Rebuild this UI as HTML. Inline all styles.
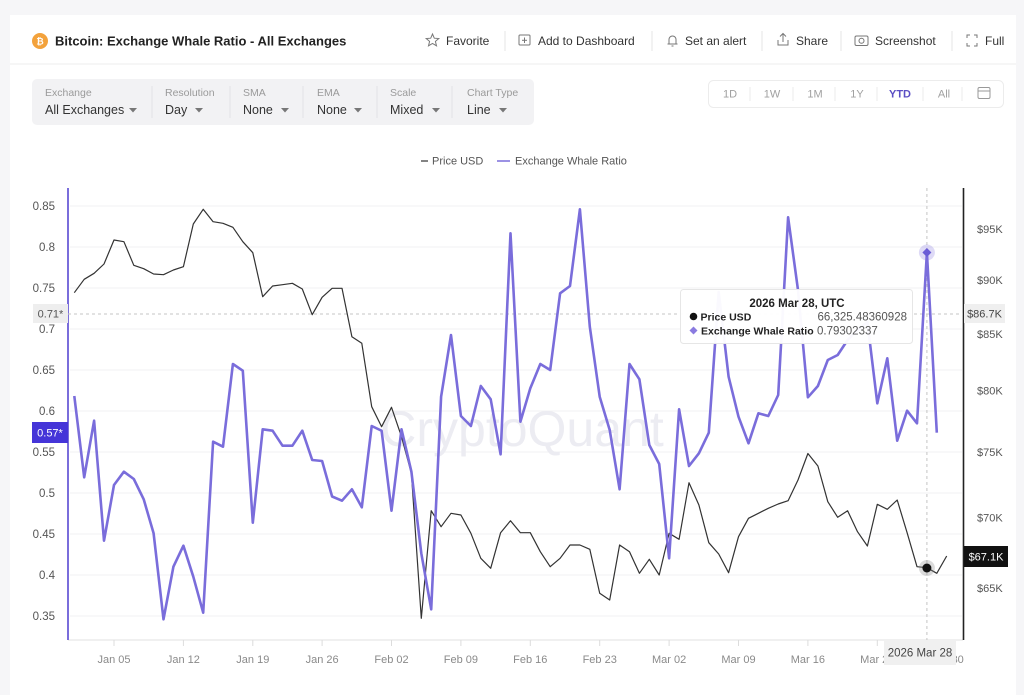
<!DOCTYPE html>
<html><head><meta charset="utf-8">
<style>
html,body{margin:0;padding:0;}
body{width:1024px;height:678px;overflow:hidden;background:#f6f6f8;font-family:"Liberation Sans",Arial,sans-serif;position:relative;}
.card{position:absolute;left:10px;top:15px;width:1006px;height:680px;background:#fff;}
.abs{position:absolute;white-space:nowrap;}
</style></head>
<body>
<div class="card"></div>
<svg width="1024" height="678" viewBox="0 0 1024 678" style="position:absolute;left:0;top:0" font-family="Liberation Sans, Arial, sans-serif">
<!-- header -->
<line x1="10" y1="64" x2="1016" y2="64" stroke="#ececec" stroke-width="1"/>
<circle cx="40" cy="41" r="8" fill="#f3a23c"/>
<text x="40" y="44.5" font-size="9" fill="#fff" text-anchor="middle" font-weight="bold">₿</text>
<text x="55" y="45.5" font-size="13" font-weight="bold" fill="#222">Bitcoin: Exchange Whale Ratio - All Exchanges</text>
<g fill="none" stroke="#777" stroke-width="1">
<polygon points="432.5,34 434.3,38.2 438.8,38.5 435.4,41.4 436.5,45.8 432.5,43.4 428.5,45.8 429.6,41.4 426.2,38.5 430.7,38.2"/>
<rect x="519" y="35" width="11" height="10" rx="1"/><line x1="524.5" y1="37.5" x2="524.5" y2="43"/><line x1="522" y1="40.3" x2="527" y2="40.3"/>
<path d="M667.5,44 h10 M669,44 v-4.5 a3.5,3.5 0 0 1 7,0 v4.5 M671.5,46 h2"/>
<path d="M778,40 v5 h10 v-5 M783,42 v-8 M780,36.5 l3,-3 l3,3"/>
<rect x="855" y="36" width="13" height="9.5" rx="1.5"/><circle cx="861.5" cy="40.8" r="2.5"/>
<path d="M967,38 v-3 h3 M974,35 h3 v3 M977,43 v3 h-3 M970,46 h-3 v-3"/>
</g>
<g stroke="#e4e4e4" stroke-width="1">
<line x1="505" y1="31" x2="505" y2="51"/><line x1="652" y1="31" x2="652" y2="51"/><line x1="762" y1="31" x2="762" y2="51"/><line x1="841" y1="31" x2="841" y2="51"/><line x1="952" y1="31" x2="952" y2="51"/>
</g>
<g font-size="12" fill="#333">
<text x="446" y="45">Favorite</text>
<text x="538" y="45">Add to Dashboard</text>
<text x="685" y="45">Set an alert</text>
<text x="796" y="45">Share</text>
<text x="875" y="45">Screenshot</text>
<text x="985" y="45">Full</text>
</g>
<!-- controls -->
<rect x="32" y="79" width="502" height="46" rx="5" fill="#f2f2f4"/>
<g stroke="#e3e3e6" stroke-width="1">
<line x1="152" y1="86" x2="152" y2="118"/><line x1="230" y1="86" x2="230" y2="118"/><line x1="303" y1="86" x2="303" y2="118"/><line x1="377" y1="86" x2="377" y2="118"/><line x1="452" y1="86" x2="452" y2="118"/>
</g>
<g font-size="10.5" fill="#9a9a9a">
<text x="45" y="96">Exchange</text><text x="165" y="96">Resolution</text><text x="243" y="96">SMA</text><text x="317" y="96">EMA</text><text x="390" y="96">Scale</text><text x="467" y="96">Chart Type</text>
</g>
<g font-size="12.5" fill="#333">
<text x="45" y="114">All Exchanges</text><text x="165" y="114">Day</text><text x="243" y="114">None</text><text x="317" y="114">None</text><text x="390" y="114">Mixed</text><text x="467" y="114">Line</text>
</g>
<g fill="#777">
<polygon points="129,108 137,108 133,112.5"/><polygon points="195,108 203,108 199,112.5"/><polygon points="281,108 289,108 285,112.5"/><polygon points="354,108 362,108 358,112.5"/><polygon points="432,108 440,108 436,112.5"/><polygon points="499,108 507,108 503,112.5"/>
</g>
<rect x="708.5" y="80.5" width="295" height="27" rx="5" fill="#fff" stroke="#ececec"/>
<g stroke="#ebebeb"><line x1="750" y1="87" x2="750" y2="101"/><line x1="793" y1="87" x2="793" y2="101"/><line x1="835" y1="87" x2="835" y2="101"/><line x1="877" y1="87" x2="877" y2="101"/><line x1="923" y1="87" x2="923" y2="101"/><line x1="962" y1="87" x2="962" y2="101"/></g>
<g font-size="11" fill="#a0a0a0" text-anchor="middle">
<text x="730" y="97.5">1D</text><text x="772" y="97.5">1W</text><text x="815" y="97.5">1M</text><text x="857" y="97.5">1Y</text><text x="900" y="97.5" fill="#5b4fc4" font-weight="bold">YTD</text><text x="944" y="97.5">All</text>
</g>
<g fill="none" stroke="#999" stroke-width="1"><rect x="978" y="87.5" width="12" height="11" rx="1.5"/><line x1="978" y1="91" x2="990" y2="91"/></g>

<!-- legend -->
<line x1="421" y1="161" x2="428" y2="161" stroke="#333" stroke-width="1.2"/>
<text x="432" y="164.5" font-size="11" fill="#555">Price USD</text>
<line x1="497" y1="161" x2="510" y2="161" stroke="#7a6ddb" stroke-width="1.5"/>
<text x="515" y="164.5" font-size="11" fill="#555">Exchange Whale Ratio</text>

<!-- grid -->
<g stroke="#f1f1f3" stroke-width="1">
<line x1="70" y1="206" x2="962" y2="206"/><line x1="70" y1="247" x2="962" y2="247"/><line x1="70" y1="288" x2="962" y2="288"/><line x1="70" y1="329" x2="962" y2="329"/><line x1="70" y1="370" x2="962" y2="370"/><line x1="70" y1="411" x2="962" y2="411"/><line x1="70" y1="452" x2="962" y2="452"/><line x1="70" y1="493" x2="962" y2="493"/><line x1="70" y1="534" x2="962" y2="534"/><line x1="70" y1="575" x2="962" y2="575"/><line x1="70" y1="616" x2="962" y2="616"/>
</g>
<!-- watermark -->
<text x="522" y="446" font-size="50" fill="#ececf2" text-anchor="middle">CryptoQuant</text>

<!-- x axis -->
<line x1="68" y1="640" x2="963" y2="640" stroke="#e2e2e2" stroke-width="1"/>
<g stroke="#dcdcdc" stroke-width="1">
<line x1="114" y1="640" x2="114" y2="646"/><line x1="183.4" y1="640" x2="183.4" y2="646"/><line x1="252.8" y1="640" x2="252.8" y2="646"/><line x1="322.1" y1="640" x2="322.1" y2="646"/><line x1="391.5" y1="640" x2="391.5" y2="646"/><line x1="460.9" y1="640" x2="460.9" y2="646"/><line x1="530.3" y1="640" x2="530.3" y2="646"/><line x1="599.7" y1="640" x2="599.7" y2="646"/><line x1="669.1" y1="640" x2="669.1" y2="646"/><line x1="738.5" y1="640" x2="738.5" y2="646"/><line x1="807.9" y1="640" x2="807.9" y2="646"/><line x1="877.3" y1="640" x2="877.3" y2="646"/>
</g>
<g font-size="11" fill="#8a8a8a" text-anchor="middle">
<text x="114" y="663">Jan 05</text><text x="183.4" y="663">Jan 12</text><text x="252.8" y="663">Jan 19</text><text x="322.1" y="663">Jan 26</text><text x="391.5" y="663">Feb 02</text><text x="460.9" y="663">Feb 09</text><text x="530.3" y="663">Feb 16</text><text x="599.7" y="663">Feb 23</text><text x="669.1" y="663">Mar 02</text><text x="738.5" y="663">Mar 09</text><text x="807.9" y="663">Mar 16</text><text x="877.3" y="663">Mar 23</text><text x="946.7" y="663">Mar 30</text>
</g>

<!-- left axis -->
<line x1="68" y1="188" x2="68" y2="640" stroke="#7a6ddb" stroke-width="2"/>
<g font-size="11.5" fill="#555" text-anchor="end">
<text x="55" y="210">0.85</text><text x="55" y="251">0.8</text><text x="55" y="292">0.75</text><text x="55" y="333">0.7</text><text x="55" y="374">0.65</text><text x="55" y="415">0.6</text><text x="55" y="456">0.55</text><text x="55" y="497">0.5</text><text x="55" y="538">0.45</text><text x="55" y="579">0.4</text><text x="55" y="620">0.35</text>
</g>
<!-- right axis -->
<line x1="963.5" y1="188" x2="963.5" y2="640" stroke="#222" stroke-width="1.6"/>
<g font-size="11" fill="#555">
<text x="977" y="233">$95K</text><text x="977" y="284">$90K</text><text x="977" y="338">$85K</text><text x="977" y="394.5">$80K</text><text x="977" y="456">$75K</text><text x="977" y="521.5">$70K</text><text x="977" y="592">$65K</text>
</g>

<!-- crosshair -->
<line x1="68" y1="314" x2="963" y2="314" stroke="#c4c4c4" stroke-width="1" stroke-dasharray="3,3"/>
<line x1="926.9" y1="188" x2="926.9" y2="640" stroke="#c4c4c4" stroke-width="1" stroke-dasharray="3,3"/>

<!-- series -->
<polyline fill="none" stroke="#333" stroke-width="1.2" stroke-linejoin="round" points="74.3,292.7 84.2,279.3 94.1,273.3 104,264 114,240 123.9,241.7 133.8,265.3 143.7,268.7 153.6,274 163.5,274.7 173.4,270 183.4,266.7 193.3,224 203.2,209.3 213.1,221.7 223,223.3 232.9,227.3 242.8,241.7 252.8,252.7 262.7,296.7 272.6,286 282.5,284.7 292.4,283.3 302.3,289 312.2,314.7 322.1,297.3 332.1,288.3 342,288.3 351.9,336.7 361.8,343.3 371.7,406.7 381.6,426.7 391.5,407.3 401.5,436.7 411.4,473.3 421.3,618.3 431.2,510.7 441.1,526.7 451,513.3 460.9,515 470.9,533.3 480.8,558.3 490.7,568.3 500.6,532.7 510.5,520.7 520.4,532.7 530.3,532.7 540.3,551.7 550.2,566.7 560.1,558.3 570,545 579.9,545 589.8,549.3 599.7,593.3 609.7,600 619.6,545 629.5,551.7 639.4,573.3 649.3,559.3 659.2,575 669.1,533.3 679.1,539.3 689,482.7 698.9,505 708.8,542.7 718.7,554 728.6,572.7 738.5,536.7 748.5,518.3 758.4,513.3 768.3,508.3 778.2,504 788.1,500.7 798,480 807.9,453.5 817.9,466 827.8,501.7 837.7,517.3 847.6,510.7 857.5,531.7 867.4,546 877.3,504.3 887.3,509.3 897.2,500 907.1,532.7 917,566.7 926.9,567.7 936.8,573.3 946.7,556"/>
<polyline fill="none" stroke="#7a6ddb" stroke-width="2.6" stroke-linejoin="round" points="74.3,396 84.2,477.3 94.1,420.7 104,540.7 114,485 123.9,471.7 133.8,479 143.7,499.3 153.6,533.3 163.5,619.3 173.4,566.7 183.4,545.7 193.3,576.7 203.2,612.7 213.1,441.7 223,446.7 232.9,364 242.8,370.7 252.8,522.7 262.7,429.3 272.6,430.7 282.5,445.7 292.4,445.7 302.3,430.7 312.2,460 322.1,461 332.1,496.5 342,500.7 351.9,489.3 361.8,507.3 371.7,426 381.6,430.7 391.5,510.7 401.5,429.3 411.4,471.7 421.3,553.3 431.2,609.3 441.1,396.7 451,335 460.9,416 470.9,426 480.8,386 490.7,399.3 500.6,454.3 510.5,233.3 520.4,421.7 530.3,388.3 540.3,364 550.2,370 560.1,293.3 570,286 579.9,209.3 589.8,326.7 599.7,396.7 609.7,430 619.6,489.3 629.5,364 639.4,379.3 649.3,445 659.2,464 669.1,558.3 679.1,409.3 689,466 698.9,453.3 708.8,432.7 718.7,292 728.6,376.7 738.5,416.7 748.5,443.3 758.4,413.3 768.3,416 778.2,395 788.1,217.3 798,290 807.9,397.3 817.9,386 827.8,360 837.7,355 847.6,340 857.5,330 867.4,322 877.3,403.3 887.3,358.3 897.2,440.7 907.1,410.7 917,423.3 926.9,252.5 936.8,432.7"/>

<!-- markers -->
<circle cx="926.9" cy="252.5" r="8" fill="#7a6ddb" fill-opacity="0.25"/>
<polygon points="926.9,248 931.4,252.5 926.9,257 922.4,252.5" fill="#6a5cd6"/>
<circle cx="926.9" cy="568" r="8" fill="#888" fill-opacity="0.3"/>
<circle cx="926.9" cy="568" r="4.5" fill="#111"/>

<!-- axis value tags -->
<rect x="33" y="304" width="35" height="19" fill="#eeeeee"/>
<text x="50.5" y="317.5" font-size="11" fill="#555" text-anchor="middle">0.71*</text>
<rect x="32" y="422" width="36" height="21" fill="#4535d8"/>
<text x="50" y="436.5" font-size="11" fill="#fff" text-anchor="middle">0.57*</text>
<rect x="964" y="304" width="41" height="19" fill="#efefef"/>
<text x="984.5" y="317.5" font-size="11" fill="#444" text-anchor="middle">$86.7K</text>
<rect x="964" y="546" width="44" height="21" fill="#111"/>
<text x="986" y="560.5" font-size="11" fill="#fff" text-anchor="middle">$67.1K</text>
<rect x="884" y="640" width="72" height="25" fill="#f0f0f0"/>
<text x="920" y="656.5" font-size="11.5" fill="#444" text-anchor="middle">2026 Mar 28</text>

<!-- tooltip -->
<rect x="680.5" y="289.5" width="232" height="54" rx="3" fill="#fff" fill-opacity="0.96" stroke="#e6e6e6"/>
<text x="797" y="307" font-size="11.5" font-weight="bold" fill="#222" text-anchor="middle">2026 Mar 28, UTC</text>
<circle cx="693.5" cy="316.5" r="3.8" fill="#111"/>
<text x="700.5" y="320.5" font-size="10.5" font-weight="bold" fill="#222">Price USD</text>
<text x="907" y="320.5" font-size="11.5" fill="#555" text-anchor="end">66,325.48360928</text>
<polygon points="693.5,326.5 697.5,330.5 693.5,334.5 689.5,330.5" fill="#8a7be0"/>
<text x="701" y="334.5" font-size="10.5" font-weight="bold" fill="#222">Exchange Whale Ratio</text>
<text x="817" y="334.5" font-size="11.5" fill="#555">0.79302337</text>
</svg>
</body></html>
